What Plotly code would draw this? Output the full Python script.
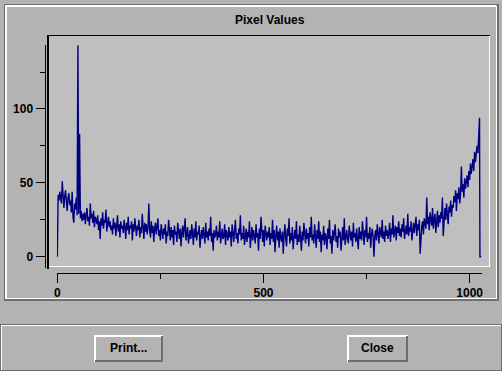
import plotly.graph_objects as go

W, H = 502, 371

# ---- data ----
pixel_values = [
    0, 42, 38, 44, 40, 36, 51, 39, 33, 41, 45, 37, 31, 40, 43, 35,
    38, 30, 44, 27, 23, 36, 32, 40, 28, 143, 29, 83, 26, 31, 24, 29,
    25, 30, 22, 28, 33, 24, 27, 21, 36, 26, 29, 23, 31, 20, 27, 25,
    22, 28, 18, 24, 12, 26, 21, 30, 19, 25, 23, 32, 17, 22, 27, 20,
    24, 18, 21, 15, 26, 19, 23, 14, 20, 28, 17, 22, 13, 24, 19, 21,
    16, 25, 20, 12, 23, 18, 27, 15, 21, 19, 24, 11, 22, 17, 26, 20,
    14, 21, 18, 25, 13, 20, 16, 29, 19, 12, 23, 17, 22, 15, 20, 36,
    18, 13, 24, 16, 21, 10, 19, 23, 15, 20, 26, 14, 18, 11, 22, 17,
    12, 19, 15, 22, 9, 17, 14, 25, 16, 11, 20, 13, 18, 8, 21, 15,
    17, 10, 23, 14, 12, 19, 7, 16, 21, 13, 18, 26, 11, 15, 20, 9,
    14, 18, 12, 22, 16, 8, 19, 13, 24, 11, 17, 15, 21, 6, 14, 18,
    12, 20, 15, 9, 23, 13, 17, 11, 19, 14, 27, 10, 16, 4, 18, 13,
    15, 21, 11, 17, 13, 24, 9, 16, 19, 12, 14, 22, 8, 18, 15, 11,
    20, 13, 17, 7, 22, 14, 10, 18, 25, 12, 16, 9, 19, 15, 28, 11,
    16, 12, 21, 8, 14, 19, 10, 17, 13, 24, 6, 15, 20, 11, 18, 14,
    9, 22, 13, 16, 4, 19, 12, 27, 15, 10, 18, 7, 21, 14, 11, 17,
    13, 20, 8, 16, 12, 25, 10, 18, 3, 14, 21, 11, 17, 6, 19, 13,
    10, 17, 2, 15, 22, 12, 7, 19, 14, 26, 9, 16, 11, 20, 5, 13,
    18, 12, 24, 8, 15, 10, 21, 13, 4, 17, 11, 23, 14, 9, 19, 12,
    16, 7, 20, 13, 27, 11, 15, 9, 22, 14, 6, 18, 12, 24, 10, 17,
    3, 15, 11, 21, 8, 16, 13, 5, 19, 12, 25, 9, 14, 2, 18, 11,
    16, 22, 10, 14, 6, 19, 13, 17, 4, 15, 20, 11, 26, 8, 14, 18,
    12, 9, 21, 15, 11, 17, 7, 23, 13, 16, 10, 19, 14, 5, 20, 12,
    17, 11, 24, 14, 8, 18, 13, 27, 10, 16, 12, 20, 6, 15, 19, 13,
    0, 14, 18, 11, 22, 16, 9, 20, 15, 13, 25, 12, 17, 10, 21, 14,
    18, 12, 16, 23, 10, 19, 15, 28, 13, 17, 21, 11, 20, 16, 24, 14,
    19, 13, 22, 17, 26, 12, 18, 21, 15, 29, 14, 20, 17, 24, 11, 19,
    23, 16, 20, 27, 14, 22, 18, 25, 2, 17, 21, 24, 15, 26, 20, 19,
    40, 22, 27, 18, 30, 24, 21, 33, 19, 26, 29, 16, 25, 31, 20, 28,
    23, 30, 26, 40, 14, 29, 33, 25, 36, 28, 22, 34, 30, 38, 27, 35,
    33, 41, 37, 45, 31, 43, 39, 47, 36, 42, 61, 44, 49, 40, 53, 46,
    50, 55, 47, 58, 52, 63, 56, 60, 66, 58, 71, 64, 68, 75, 70, 80,
    94, 0, 0,
]
pixel_index = list(range(0, 1024, 2)) + [1024, 1025, 1028]
assert len(pixel_index) == len(pixel_values)

x_ticks = [0, 500, 1000]
x_minor = [250, 750]
y_ticks = [0, 50, 100]
y_minor = [25, 75, 125]
title_text = "Pixel Values"
button_labels = ["Print...", "Close"]

# ---- styling ----
BG = "#b3b3b3"
PLOT_BG = "#bfbfbf"
DARK = "#6e6e6e"
WHITE = "#ffffff"
LINE = "#000080"
FONT = "Liberation Sans"


def fx(p):
    return p / W


def fy(p):
    return 1 - p / H


shapes = []


def hline(y, x0, x1, color, w=1):
    shapes.append(dict(type="line", xref="paper", yref="paper",
                       x0=fx(x0), x1=fx(x1), y0=fy(y), y1=fy(y),
                       line=dict(color=color, width=w), layer="below"))


def vline(x, y0, y1, color, w=1):
    shapes.append(dict(type="line", xref="paper", yref="paper",
                       x0=fx(x), x1=fx(x), y0=fy(y0), y1=fy(y1),
                       line=dict(color=color, width=w), layer="below"))


def rect(x0, y0, x1, y1, fill):
    shapes.append(dict(type="rect", xref="paper", yref="paper",
                       x0=fx(x0), x1=fx(x1), y0=fy(y1), y1=fy(y0),
                       fillcolor=fill, line=dict(width=0), layer="below"))


# etched frame around the plot
hline(4.5, 4, 498, DARK)
vline(4.5, 4, 300, DARK)
hline(6, 5, 496, WHITE, 2)
vline(6, 5, 298, WHITE, 2)
vline(496.5, 6, 299, WHITE)
hline(298.5, 5, 497, WHITE)
vline(498, 4, 301, DARK, 2)
hline(300, 4, 499, DARK, 2)

# sunken plot box
rect(48, 35, 490, 267, PLOT_BG)
hline(35.5, 47, 490, "black")
vline(48, 35, 269, "black", 2)
vline(489.5, 36, 267, WHITE)
hline(266.5, 49, 490, WHITE)

# bottom button panel
hline(324.5, 0, 502, DARK)
hline(325.5, 0, 502, WHITE)
vline(0.5, 325, 371, DARK)
vline(1.5, 326, 370, WHITE)
vline(501.5, 325, 371, DARK)
hline(370.5, 0, 502, DARK)

# buttons
buttons = [(94, 163), (347, 408)]
for (bx0, bx1) in buttons:
    hline(336, bx0, bx1, WHITE, 2)
    vline(bx0 + 1, 335, 362, WHITE, 2)
    hline(361, bx0 + 1, bx1, DARK, 2)
    vline(bx1 - 1, 336, 362, DARK, 2)

annotations = [
    dict(text=title_text, x=fx(269.5), y=fy(20), xref="paper", yref="paper",
         xanchor="center", yanchor="middle", showarrow=False,
         font=dict(family=FONT, size=12, color="black", weight="bold")),
]
for (bx0, bx1), lab in zip(buttons, button_labels):
    annotations.append(dict(text=lab, x=fx((bx0 + bx1) / 2), y=fy(347.5),
                            xref="paper", yref="paper", xanchor="center",
                            yanchor="middle", showarrow=False,
                            font=dict(family=FONT, size=12, color="black",
                                      weight="bold")))

fig = go.Figure()
fig.add_trace(go.Scatter(x=pixel_index, y=pixel_values, mode="lines",
                         line=dict(color=LINE, width=1.4), hoverinfo="skip",
                         showlegend=False))

tickfont = dict(family=FONT, size=12, color="black", weight="bold")

fig.update_layout(
    width=W, height=H,
    margin=dict(l=0, r=0, t=0, b=0),
    paper_bgcolor=BG,
    plot_bgcolor="rgba(0,0,0,0)",
    showlegend=False,
    shapes=shapes,
    annotations=annotations,
    xaxis=dict(
        domain=[fx(56.9), fx(482)], range=[-1, 1030],
        anchor="free", position=fy(272.5), side="bottom",
        showline=True, linecolor="black", linewidth=1,
        showgrid=False, zeroline=False,
        tickmode="array", tickvals=x_ticks, ticktext=[str(v) for v in x_ticks],
        ticks="outside", ticklen=9, tickwidth=1, tickcolor="black",
        minor=dict(tickmode="array", tickvals=x_minor, ticks="outside",
                   ticklen=5, tickwidth=1, tickcolor="black", showgrid=False),
        tickfont=tickfont, automargin=False, fixedrange=True,
    ),
    yaxis=dict(
        domain=[fy(268), fy(45)], range=[-7.65, 143.3],
        anchor="free", position=fx(44.5), side="left",
        showline=True, linecolor="black", linewidth=1,
        showgrid=False, zeroline=False,
        tickmode="array", tickvals=y_ticks, ticktext=[str(v) for v in y_ticks],
        ticks="outside", ticklen=9, tickwidth=1, tickcolor="black",
        minor=dict(tickmode="array", tickvals=y_minor, ticks="outside",
                   ticklen=5, tickwidth=1, tickcolor="black", showgrid=False),
        tickfont=tickfont, automargin=False, fixedrange=True,
    ),
)

fig.write_html("out.html", config={"displayModeBar": False, "staticPlot": True})
